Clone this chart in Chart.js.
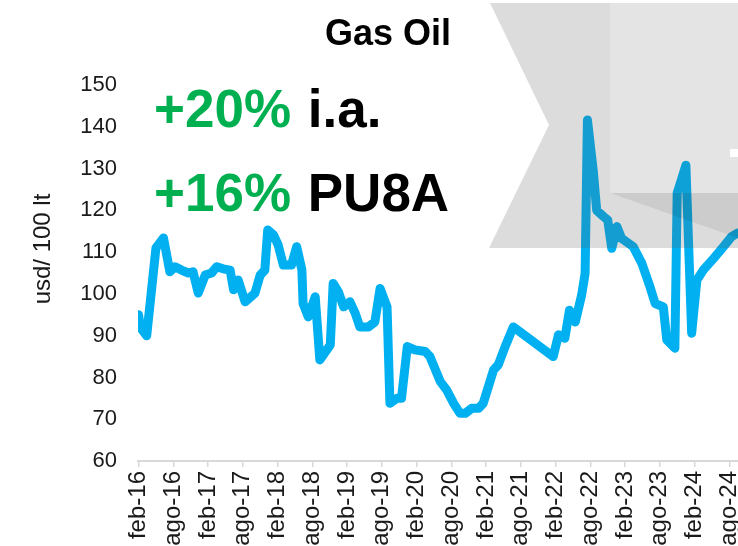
<!DOCTYPE html>
<html>
<head>
<meta charset="utf-8">
<script src="https://cdn.jsdelivr.net/npm/chart.js@4.4.1/dist/chart.umd.min.js"></script>
<style>
  body { margin: 0; background: #fff; overflow: hidden; }
  #gasOilChart { display: block; }
</style>
</head>
<body>
<canvas id="gasOilChart" width="738" height="546"></canvas>
<script>
// x labels every 6 months, starting feb-16
const tickLabels = ['feb-16', 'ago-16', 'feb-17', 'ago-17', 'feb-18', 'ago-18', 'feb-19', 'ago-19', 'feb-20',
    'ago-20', 'feb-21', 'ago-21', 'feb-22', 'ago-22', 'feb-23', 'ago-23', 'feb-24', 'ago-24'];

// months since feb-16 (points are not evenly spaced)
const monthPos = [0, 0.3, 1.4, 3.0, 4.3, 5.4, 6.3, 7.4, 8.6, 9.4, 10.3, 11.5, 12.6, 13.5, 14.6, 15.8, 16.4, 17.2,
    18.4, 20.1, 21.0, 21.8, 22.3, 23.3, 24.1, 25.0, 26.4, 27.3, 28.2, 28.4, 29.3, 30.5, 31.3, 33.1, 33.6, 34.5,
    35.4, 36.5, 37.4, 38.2, 39.7, 40.8, 41.7, 42.9, 43.4, 44.6, 45.4, 46.4, 47.7, 49.5, 50.3, 52.1, 53.2, 54.4,
    55.5, 56.4, 57.5, 58.7, 59.5, 60.4, 61.3, 62.1, 63.3, 64.7, 71.6, 72.5, 73.6, 74.4, 75.4, 76.5, 77.1, 77.5,
    78.5, 79.1, 80.3, 81.0, 81.7, 82.6, 83.4, 85.4, 86.9, 88.3, 89.2, 90.6, 91.2, 92.6, 93.0, 94.5, 95.5, 96.4,
    97.5, 99.3, 101.0, 102.4, 103.5, 104.5];

// usd / 100 lt
const gasOil = [95, 92, 90, 111, 113.4, 105.3, 106.5, 105.7, 105, 105.3, 100.2, 104.5, 105, 106.5, 106, 105.7, 101, 103.3,
    98.1, 100.2, 104.5, 105.7, 115.3, 114.1, 111.7, 106.9, 106.9, 111.3, 105.7, 97.7, 94.5, 99.3, 84.2, 87.8, 102.5, 100.5,
    96.9, 98.1, 95.4, 92.1, 92.1, 93.3, 101.3, 96.9, 73.8, 75, 75, 87.4, 86.6, 86.2, 85, 79, 77, 73.8,
    71.4, 71.4, 72.6, 72.6, 73.8, 77.8, 81.8, 83, 87.4, 92.1, 85, 90.2, 89.4, 96.1, 93.3, 99.7, 104.9, 141.6,
    129.6, 120, 118.5, 117.7, 110.9, 116.1, 113.3, 111.3, 107.3, 101.7, 97.7, 96.9, 89, 87, 124.1, 130.8, 90.6, 103.3,
    105.7, 108.5, 111.3, 113.7, 114.6, 115.5];

const titleText = 'Gas Oil';
const yTitle = 'usd/ 100 lt';
const notes = [['+20%', 'i.a.'], ['+16%', 'PU8A']];

const FONT = '"Liberation Sans", Arial, sans-serif';

// gray ribbon in the top right corner, drawn over the line
const ribbonPlugin = {
    id: 'ribbon',
    afterDatasetsDraw(chart) {
        const c = chart.ctx;
        c.save();
        // outer notched shape, without the inner box
        c.beginPath();
        c.moveTo(490, 3);
        c.lineTo(610, 3);
        c.lineTo(610, 193);
        c.lineTo(738, 193);
        c.lineTo(738, 248);
        c.lineTo(489, 248);
        c.lineTo(549, 125);
        c.closePath();
        c.fillStyle = 'rgba(90,90,90,0.21)';
        c.fill();
        // inner lighter box
        c.fillStyle = 'rgba(90,90,90,0.16)';
        c.fillRect(610, 3, 128, 190);
        // darker wedge under the box
        c.beginPath();
        c.moveTo(610, 193);
        c.lineTo(738, 193);
        c.lineTo(738, 238);
        c.closePath();
        c.fillStyle = 'rgba(0,0,0,0.075)';
        c.fill();
        c.fillStyle = '#ffffff';
        c.fillRect(730, 149, 8, 8);
        c.restore();
    },
    afterDraw(chart) {
        const c = chart.ctx;
        c.save();
        c.fillStyle = '#000';
        c.textBaseline = 'alphabetic';
        c.textAlign = 'center';
        c.font = 'bold 36px ' + FONT;
        c.fillText(titleText, 388, 45);

        // y axis title
        c.save();
        c.translate(42, 249);
        c.rotate(-Math.PI / 2);
        c.font = '24px ' + FONT;
        c.fillStyle = '#1a1a1a';
        c.fillText(yTitle, 0, 8);
        c.restore();

        // growth notes
        c.textAlign = 'left';
        c.font = 'bold 53px ' + FONT;
        const baselines = [127, 211];
        notes.forEach((n, i) => {
            c.fillStyle = '#00B050';
            c.fillText(n[0], 154, baselines[i]);
            const w = c.measureText(n[0] + ' ').width;
            c.fillStyle = '#000';
            c.fillText(n[1], 154 + w + 2, baselines[i]);
        });
        c.restore();
    }
};

const ctx = document.getElementById('gasOilChart').getContext('2d');
const chart = new Chart(ctx, {
    type: 'line',
    data: {
        datasets: [{
            label: titleText,
            data: monthPos.map((m, i) => ({ x: m, y: gasOil[i] })),
            borderColor: '#00B0F0',
            backgroundColor: '#00B0F0',
            borderWidth: 9,
            pointRadius: 0,
            tension: 0,
            borderJoinStyle: 'round',
            borderCapStyle: 'round',
            fill: false
        }]
    },
    options: {
        responsive: false,
        animation: false,
        layout: {
            padding: { top: 85, left: 0, right: 0, bottom: 0 }
        },
        plugins: {
            legend: { display: false },
            tooltip: { enabled: false }
        },
        scales: {
            x: {
                type: 'linear',
                min: -0.1,
                max: 103.5,
                afterBuildTicks: (scale) => {
                    scale.ticks = tickLabels.map((l, i) => ({ value: i * 6 }));
                },
                afterFit: (scale) => {
                    scale.height = 85;
                    scale.paddingLeft = 0;
                    scale.paddingRight = 0;
                },
                ticks: {
                    autoSkip: false,
                    minRotation: 90,
                    maxRotation: 90,
                    padding: 4,
                    color: '#1a1a1a',
                    font: { family: FONT, size: 24 },
                    callback: (v) => tickLabels[Math.round(v / 6)]
                },
                grid: {
                    drawOnChartArea: false,
                    drawTicks: true,
                    tickLength: 6,
                    color: '#d9d9d9',
                    lineWidth: 1.5
                },
                border: { color: '#d9d9d9', width: 2 }
            },
            y: {
                min: 60,
                max: 150,
                afterFit: (scale) => {
                    scale.width = 138;
                    scale.paddingTop = 0;
                    scale.paddingBottom = 0;
                },
                ticks: {
                    stepSize: 10,
                    padding: 21,
                    color: '#1a1a1a',
                    font: { family: FONT, size: 22 }
                },
                grid: { display: false, drawTicks: false },
                border: { display: false }
            }
        }
    },
    plugins: [ribbonPlugin]
});
</script>
</body>
</html>
